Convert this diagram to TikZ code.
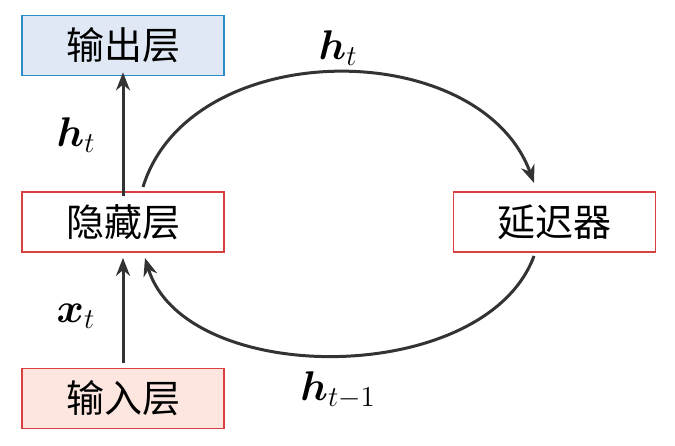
\documentclass[tikz,border=0pt]{standalone}
\usepackage{fontspec}
\usepackage{bm}
\newfontfamily\cjk{Noto Sans CJK SC}
\usetikzlibrary{arrows.meta}
\definecolor{outfill}{HTML}{DFE8F4}
\definecolor{outdraw}{HTML}{2A8CC4}
\definecolor{redline}{HTML}{D94040}
\definecolor{infill}{HTML}{FCE6DF}
\definecolor{arrowc}{HTML}{333333}
\tikzset{
  layer/.style={draw=redline, line width=0.9pt, minimum width=101pt, minimum height=30pt, inner sep=0pt, font=\cjk\fontsize{19}{22}\selectfont},
  conn/.style={draw=arrowc, line width=1.5pt, -{Stealth[length=9pt,width=7pt]}},
  lab/.style={font=\fontsize{22}{26}\selectfont}
}
\begin{document}
\begin{tikzpicture}[x=0.5pt,y=-0.5pt]
\useasboundingbox (0,0) rectangle (675,445);
\node[layer, draw=outdraw, fill=outfill] (out) at (123,45.5) {输出层};
\node[layer, fill=white] (hid) at (123,222) {隐藏层};
\node[layer, fill=infill] (in) at (123,398.5) {输入层};
\node[layer, fill=white] (delay) at (554.5,222) {延迟器};
\coordinate (hs) at (143,187);
\coordinate (de) at (534,183);
\coordinate (ds) at (534,256);
\coordinate (he) at (145,258);
\draw[conn] ([yshift=-2.5pt]hid.north) -- ([yshift=2pt]out.south);
\draw[conn] ([yshift=2.5pt]in.north) -- ([yshift=-2.5pt]hid.south);
\draw[conn] (hs) .. controls (190,35) and (480,35) .. (de);
\draw[conn] (ds) .. controls (485,388) and (185,388) .. (he);
\node[lab] (l1) at (76,135) {$\bm{h}_t$};
\node[lab] (l2) at (76,316) {$\bm{x}_t$};
\node[lab] (l3) at (338,48) {$\bm{h}_t$};
\node[lab] (l4) at (338,390) {$\bm{h}_{t-1}$};
\end{tikzpicture}
\end{document}
